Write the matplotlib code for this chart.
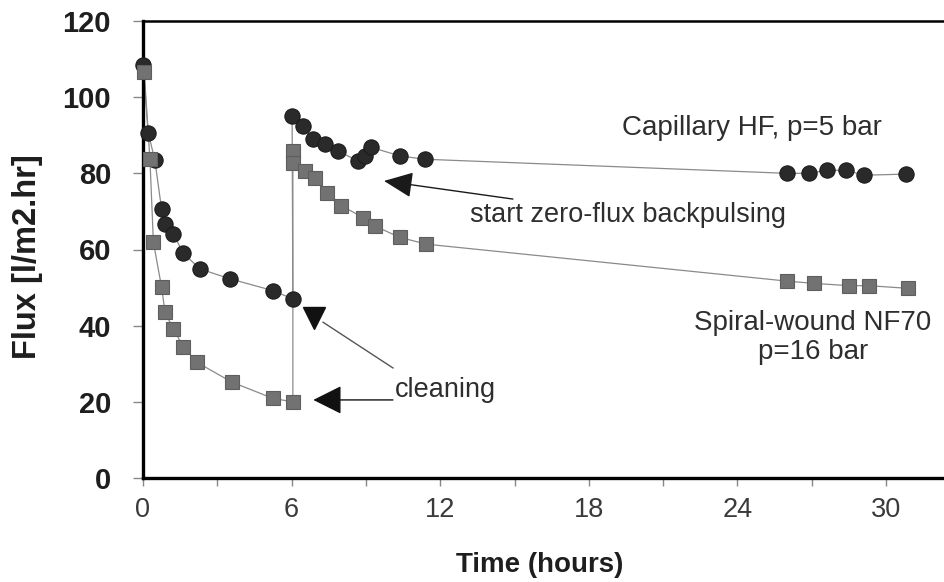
import matplotlib
matplotlib.use('Agg')
import matplotlib.pyplot as plt
from matplotlib.ticker import MultipleLocator

plt.rcParams['font.family'] = ['Liberation Sans', 'DejaVu Sans']

# Capillary HF, p=5 bar (circles)
hf_time = [0.0, 0.21, 0.48, 0.75, 0.89, 1.22, 1.63, 2.30, 3.51, 5.25, 6.05,
           6.02, 6.46, 6.87, 7.34, 7.88, 8.68, 8.95, 9.22, 10.36, 11.37,
           26.0, 26.9, 27.6, 28.4, 29.1, 30.8]
hf_flux = [108.5, 90.7, 83.4, 70.6, 66.7, 64.1, 59.0, 54.9, 52.3, 49.2, 47.0,
           95.0, 92.4, 88.9, 87.6, 85.9, 83.2, 84.6, 86.8, 84.6, 83.7,
           80.0, 80.0, 80.8, 80.8, 79.5, 79.8]

# Spiral-wound NF70, p=16 bar (squares)
sw_time = [0.05, 0.28, 0.42, 0.75, 0.89, 1.22, 1.63, 2.17, 3.58, 5.25, 6.05,
           6.05, 6.05, 6.53, 6.94, 7.41, 8.01, 8.88, 9.35, 10.36, 11.44,
           26.0, 27.1, 28.5, 29.3, 30.9]
sw_flux = [106.5, 83.7, 61.9, 50.1, 43.5, 39.2, 34.4, 30.4, 25.2, 20.9, 20.0,
           85.9, 82.8, 80.6, 78.9, 74.9, 71.5, 68.4, 66.2, 63.2, 61.4,
           51.7, 51.1, 50.5, 50.5, 49.8]

x_ticks = [0, 6, 12, 18, 24, 30]
y_ticks = [0, 20, 40, 60, 80, 100, 120]

# annotation anchors (data coords)
hf_text_xy = (24.57, 92.0)
sw_text_xy = (27.05, 36.8)
pulse_text_xy = (13.2, 69.0)
pulse_tip = (9.73, 78.0)
clean_text_xy = (12.23, 23.0)
clean_tri = (6.92, 42.0)
clean_line = ([7.27, 10.09], [40.9, 28.9])
clean_tip = (6.875, 20.5)
clean_tail = (10.09, 20.5)

TEXT = '#2e2e2e'
LINE = '#8a8a8a'


def main():
  fig = plt.figure(figsize=(9.45, 5.82), dpi=100)
  ax = fig.add_axes([143/945, 104/582, 805/945, 457/582])
  ax.set_xlim(0, 32.5)
  ax.set_ylim(0, 120)

  # connecting lines
  ax.plot(hf_time, hf_flux, '-', color=LINE, lw=0.9, zorder=2)
  ax.plot(sw_time, sw_flux, '-', color=LINE, lw=0.9, zorder=2)
  # markers
  ax.plot(hf_time, hf_flux, ls='none', marker='o', ms=11,
          mfc='#2a2a2a', mec='#1c1c1c', mew=0.8, zorder=3, clip_on=False)
  ax.plot(sw_time, sw_flux, ls='none', marker='s', ms=10,
          mfc='#727272', mec='#5e5e5e', mew=0.8, zorder=4, clip_on=False)

  # spines
  ax.spines['left'].set_linewidth(2.4)
  ax.spines['bottom'].set_linewidth(2.4)
  ax.spines['top'].set_linewidth(1.8)
  ax.spines['right'].set_linewidth(1.8)

  ax.set_xticks(x_ticks)
  ax.xaxis.set_minor_locator(MultipleLocator(3))
  ax.set_yticks(y_ticks)
  ax.tick_params(axis='y', direction='out', length=7, width=1, color='#888888',
                 pad=16, labelsize=21, labelcolor='#1e1e1e')
  ax.tick_params(axis='x', which='both', direction='out', length=6, width=1,
                 color='#888888', pad=8, labelsize=19.5, labelcolor='#3a3a3a')
  for lab in ax.get_yticklabels():
    lab.set_fontweight('bold')

  fig.text(28/945, 1 - 257/582, 'Flux [l/m2.hr]', rotation=90, ha='center',
           va='center', fontsize=23.5, fontweight='bold', color='#1e1e1e')
  fig.text(540/945, 1 - 565/582, 'Time (hours)', ha='center', va='center',
           fontsize=20, fontweight='bold', color='#1e1e1e')

  # series labels
  ax.text(*hf_text_xy, 'Capillary HF, p=5 bar', ha='center', va='center',
          fontsize=20, color=TEXT)
  ax.text(*sw_text_xy, 'Spiral-wound NF70\np=16 bar', ha='center',
          va='center', fontsize=20, color=TEXT, linespacing=1.15)

  # backpulsing arrow
  ax.annotate('start zero-flux backpulsing', xy=pulse_tip, xytext=pulse_text_xy,
              ha='left', va='center', fontsize=19.5, color=TEXT,
              arrowprops=dict(arrowstyle='-|>,head_length=0.9,head_width=0.4',
                              mutation_scale=20, color='#1a1a1a', lw=1,
                              shrinkA=2, shrinkB=0))

  # cleaning arrows
  ax.text(*clean_text_xy, 'cleaning', ha='center', va='center',
          fontsize=19.5, color=TEXT)
  ax.plot(*clean_line, '-', color='#555555', lw=1, zorder=2)
  ax.plot([clean_tri[0]], [clean_tri[1]], marker='v', ms=16, color='#111111',
          zorder=5)
  ax.annotate('', xy=clean_tip, xytext=clean_tail,
              arrowprops=dict(arrowstyle='-|>,head_length=0.9,head_width=0.45',
                              mutation_scale=20, color='#111111', lw=1,
                              shrinkA=0, shrinkB=0))

  fig.savefig('out.png', dpi=100)


if __name__ == "__main__":
  main()
